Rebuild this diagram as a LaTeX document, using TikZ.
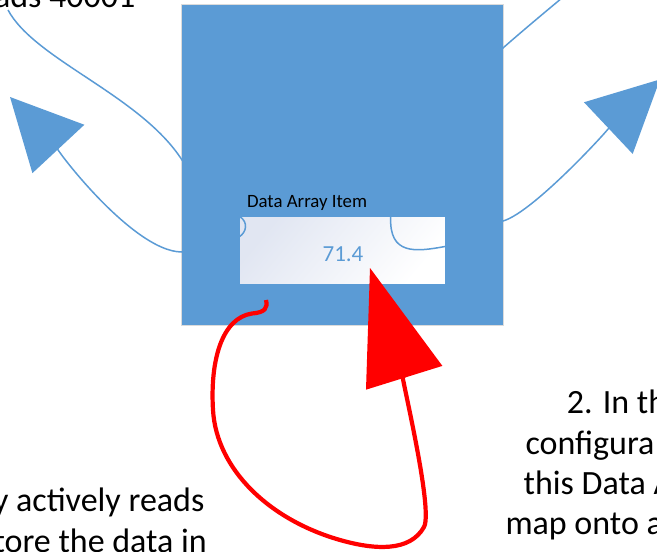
\documentclass[tikz,border=0pt]{standalone}
\usepackage{fontspec}
\setmainfont{Carlito}
\usetikzlibrary{arrows.meta}
\definecolor{obl}{HTML}{5B9BD5}
\definecolor{gradc}{HTML}{E1E6F2}
\begin{document}
\begin{tikzpicture}[x=1pt,y=-1pt,
  devbox/.style={fill=obl,draw=black!14,line width=1pt,inner sep=0pt,minimum width=322pt,minimum height=321pt},
  itembox/.style={draw=obl,line width=0.8pt,inner sep=0pt,minimum width=206pt,minimum height=67.3pt,
    top color=gradc,bottom color=white,shading angle=50},
  conn/.style={draw=obl,line width=1.5pt},
  redconn/.style={draw=red,line width=4.2pt},
  bluetip/.style={-{Triangle[length=71pt,width=71pt,line width=0pt]}},
  redtip/.style={-{Triangle[length=115pt,width=80pt,line width=0pt]}},
  big/.style={font=\fontsize{34}{40.5}\selectfont,inner sep=0pt},
  small/.style={font=\fontsize{18.8}{22}\selectfont,inner sep=0pt},
]
\useasboundingbox (0,0) rectangle (657,552);
\clip (0,0) rectangle (657,552);

% device block and data array item
\node[devbox] (dev) at (342,164.5) {};
\node[itembox] (item) at (342,250.35) {};
\node[small,anchor=base west] (lbl) at (246.9,207.3) {Data Array Item};
\node[small,anchor=base,text=obl,font=\fontsize{23}{27}\selectfont] (val) at (343,261) {71.4};

% texts (cut by the frame)
\node[big,anchor=base east] (t1) at (135.6,7) {ads 40001};
\node[big,anchor=base east] (t2) at (204.5,511.7) {y actively reads};
\node[big,anchor=base east] (t3) at (207,552) {tore the data in};
\node[big,anchor=base west] (t4) at (566.6,413.3) {2. In th};
\node[big,anchor=base west] (t5) at (525.3,454) {configura};
\node[big,anchor=base west] (t6) at (523.5,494) {this Data A};
\node[big,anchor=base west] (t7) at (505.3,534.5) {map onto a};

% connector ends
\coordinate (s1) at (8,10);
\coordinate (ltip) at (10,97);
\coordinate (s3) at (574,-12);
\coordinate (rtip) at (660,79.4);
\coordinate (rs) at (266,300);
\coordinate (rtip2) at (370,268);

% left connector
\draw[conn,bluetip] (s1) .. controls (35,60) and (140,95) .. (182,160)
  .. controls (195,180) and (228,209) .. (240,216.7)
  .. controls (248,222) and (247,232) .. (239,237)
  .. controls (225,246) and (200,252) .. (182,252)
  .. controls (130,252) and (44.1,133.6) .. (ltip);

% right connector
\draw[conn,bluetip] (s3) .. controls (545,12) and (520,33) .. (503,48)
  .. controls (430,110) and (392,170) .. (390.7,216.7)
  .. controls (389,255) and (415,252) .. (445,246.5)
  .. controls (470,242) and (490,224.6) .. (503,221)
  .. controls (535,212) and (620,117.1) .. (rtip);

% red loop
\draw[redconn,redtip] (rs) .. controls (268,308) and (265,312.5) .. (252,313.5)
  .. controls (222,318) and (210,360) .. (213,410)
  .. controls (216.6,470) and (270,520) .. (340,540)
  .. controls (375,550) and (410,552) .. (424,527)
  .. controls (435,507) and (390.8,334.8) .. (rtip2);
\end{tikzpicture}
\end{document}
